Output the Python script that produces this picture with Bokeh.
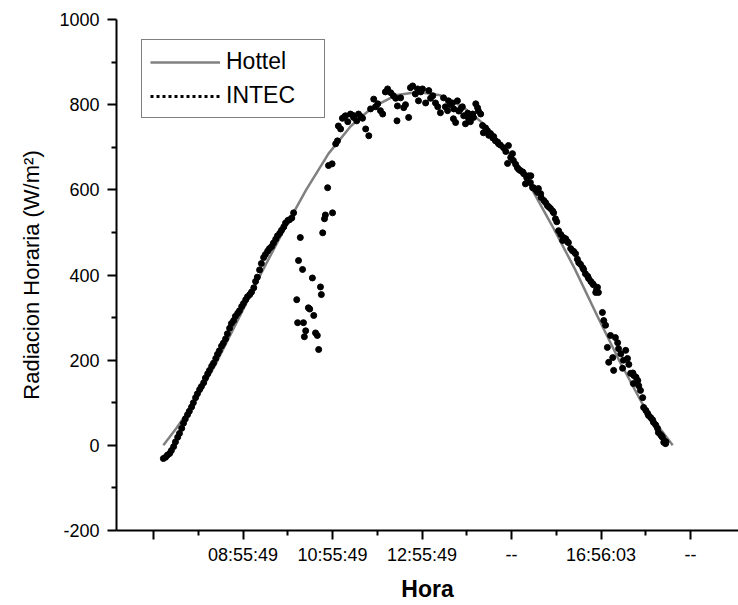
from bokeh.plotting import figure
from bokeh.models import Range1d, FixedTicker, Legend, LegendItem
from bokeh.embed import file_html
from bokeh.resources import INLINE

# ---------------- data (hours of day, W/m^2) ----------------
# Hottel model curve
hottel_hora = [7.15, 7.44, 7.84, 8.34, 8.84, 9.34, 9.84, 10.34, 10.84, 11.34, 11.84, 12.34,
               12.84, 13.34, 13.84, 14.34, 14.84, 15.34, 15.84, 16.34, 16.84, 17.34, 17.84,
               18.24, 18.53]
hottel_rad = [0, 40, 100, 195, 300, 405, 505, 600, 685, 750, 795, 822,
              830, 822, 795, 752, 690, 610, 515, 415, 305, 198, 100,
              40, 0]

# INTEC measurements - morning rise
intec_hora_manana = [7.15, 7.20, 7.24, 7.29, 7.33, 7.38, 7.42, 7.47, 7.51, 7.56, 7.60, 7.64, 7.69,
                     7.73, 7.78, 7.82, 7.87, 7.91, 7.96, 8.00, 8.05, 8.09, 8.14, 8.18, 8.23, 8.27,
                     8.32, 8.36, 8.40, 8.45, 8.49, 8.54, 8.58, 8.63, 8.67, 8.72, 8.76, 8.81, 8.85,
                     8.90, 8.94, 8.99, 9.03, 9.08, 9.12, 9.17, 9.21, 9.25, 9.30, 9.34, 9.39, 9.43,
                     9.48, 9.52, 9.57, 9.61, 9.66, 9.70, 9.75, 9.79, 9.84, 9.88, 9.93, 9.97, 10.02,
                     10.06]
intec_rad_manana = [-31, -28, -23, -19, -12, -3, 8, 19, 28, 40, 52, 62, 72,
                    80, 90, 100, 112, 121, 131, 138, 147, 158, 168, 176, 186, 193,
                    204, 214, 222, 233, 240, 250, 262, 275, 286, 293, 303, 310, 316,
                    326, 333, 342, 349, 354, 360, 370, 385, 395, 412, 427, 441, 448,
                    456, 462, 467, 475, 484, 492, 498, 505, 513, 522, 528, 530, 534,
                    546]

# INTEC - cloudy interval
intec_hora_nube = [10.13, 10.15, 10.17, 10.21, 10.26, 10.28, 10.30, 10.33, 10.39, 10.42, 10.48,
                   10.51, 10.55, 10.59, 10.62, 10.66, 10.68, 10.71, 10.75, 10.77, 10.82, 10.84,
                   10.93, 10.92, 11.00, 11.04]
intec_rad_nube = [342, 288, 434, 488, 413, 288, 255, 269, 323, 320, 393,
                  305, 264, 258, 225, 372, 354, 499, 532, 541, 605, 657,
                  546, 661, 708, 715]

# INTEC - midday
intec_hora_mediodia = [11.06, 11.11, 11.15, 11.20, 11.22, 11.27, 11.33, 11.38, 11.40, 11.47, 11.51,
                       11.56, 11.60, 11.67, 11.74, 11.78, 11.85, 11.89, 11.94, 12.00, 12.05, 12.11,
                       12.16, 12.23, 12.29, 12.34, 12.37, 12.38, 12.45, 12.52, 12.56, 12.63, 12.67,
                       12.72, 12.78, 12.83, 12.85, 12.90, 12.94, 13.01, 13.08, 13.12, 13.17, 13.23,
                       13.28, 13.34, 13.41, 13.45, 13.50, 13.52, 13.57, 13.61, 13.63, 13.64, 13.68,
                       13.72, 13.75, 13.79, 13.83, 13.86, 13.90, 13.95, 13.97, 14.01, 14.06, 14.08,
                       14.13, 14.17, 14.19, 14.24, 14.28, 14.30, 14.35, 14.39, 14.42, 14.46, 14.51,
                       14.53, 14.57, 14.62, 14.64, 14.68, 14.75, 14.80, 14.84, 14.86, 14.91, 14.95,
                       14.97, 15.02, 15.06, 15.09, 15.13, 15.18, 15.20, 15.24, 15.27, 15.31, 15.35,
                       15.36, 15.40, 15.42, 15.47, 15.51, 15.53, 15.58, 15.59]
intec_rad_mediodia = [750, 743, 768, 772, 774, 760, 778, 775, 770, 762, 778,
                      772, 768, 743, 727, 790, 813, 795, 802, 786, 778, 830,
                      837, 828, 821, 815, 762, 797, 816, 793, 800, 770, 840,
                      844, 825, 837, 809, 830, 837, 804, 833, 815, 821, 804,
                      795, 781, 816, 795, 786, 809, 800, 804, 767, 790, 758,
                      809, 785, 790, 795, 774, 755, 780, 767, 760, 778, 770,
                      802, 793, 785, 778, 751, 734, 745, 739, 728, 732, 722,
                      725, 715, 712, 708, 705, 699, 690, 662, 704, 676, 685,
                      669, 660, 652, 648, 645, 642, 638, 614, 628, 633, 617,
                      633, 605, 605, 600, 594, 603, 591, 582]

# INTEC - afternoon decline
intec_hora_tarde = [15.65, 15.69, 15.73, 15.76, 15.80, 15.85, 15.87, 15.91, 15.94, 15.98, 16.03,
                    16.07, 16.09, 16.14, 16.18, 16.20, 16.25, 16.29, 16.32, 16.36, 16.40, 16.43,
                    16.47, 16.52, 16.54, 16.58, 16.63, 16.65, 16.70, 16.74, 16.76, 16.81, 16.83,
                    16.85, 16.87, 16.96, 16.99, 17.03, 17.07, 17.10, 17.14, 17.19, 17.21, 17.25,
                    17.30, 17.32, 17.37, 17.41, 17.43, 17.48, 17.52, 17.55, 17.59, 17.64, 17.65,
                    17.66, 17.71, 17.75, 17.77, 17.81, 17.86, 17.88, 17.93, 17.97, 17.99, 18.04,
                    18.08, 18.10, 18.15, 18.19, 18.21, 18.26, 18.28, 18.30, 18.33, 18.35, 18.37,
                    18.38]
intec_rad_tarde = [575, 570, 563, 560, 556, 550, 546, 532, 525, 504, 495,
                   481, 488, 485, 478, 476, 462, 457, 455, 450, 437, 429,
                   425, 417, 413, 403, 397, 392, 385, 380, 377, 359, 366,
                   371, 359, 312, 293, 282, 230, 195, 258, 206, 176, 253,
                   241, 227, 215, 181, 200, 223, 204, 190, 169, 170, 145,
                   164, 160, 152, 140, 129, 112, 89, 82, 75, 70, 65,
                   60, 54, 48, 40, 30, 25, 22, 19, 7, 10, 4,
                   8]

x_ticks = [6.93, 8.93, 10.93, 12.93, 14.93, 16.93, 18.93]
x_tick_labels = ["", "08:55:49", "10:55:49", "12:55:49", "--", "16:56:03", "--"]
x_minor = [7.93, 9.93, 11.93, 13.93, 15.93, 17.93]
y_ticks = [-200, 0, 200, 400, 600, 800, 1000]
y_tick_labels = ["-200", "0", "200", "400", "600", "800", "1000"]
y_minor = [-100, 100, 300, 500, 700, 900]

intec_hora = intec_hora_manana + intec_hora_nube + intec_hora_mediodia + intec_hora_tarde
intec_rad = intec_rad_manana + intec_rad_nube + intec_rad_mediodia + intec_rad_tarde

FONT = "Liberation Sans"
NAN = float("nan")

p = figure(width=738, height=605, x_range=Range1d(6.103, 20.0), y_range=Range1d(-200, 1000),
           output_backend="svg", toolbar_location=None,
           min_border_left=116, min_border_right=0, min_border_top=19, min_border_bottom=75)
p.xgrid.visible = False
p.ygrid.visible = False
p.outline_line_color = None
p.background_fill_color = "white"
p.border_fill_color = "white"

hottel_r = p.line(hottel_hora, hottel_rad, line_color="#808080", line_width=2.5)
p.scatter(intec_hora, intec_rad, size=6, fill_color="black", line_color="black")
# legend key only (dotted line sample for the INTEC series)
intec_key = p.line([NAN, NAN], [NAN, NAN], line_color="black", line_width=3, line_dash="3 3")

for ax in (p.xaxis[0], p.yaxis[0]):
    ax.axis_line_width = 2
    ax.axis_line_color = "black"
    ax.major_tick_line_width = 2
    ax.minor_tick_line_width = 2
    ax.major_tick_line_color = "black"
    ax.minor_tick_line_color = "black"
    ax.major_tick_out = 9
    ax.major_tick_in = 0
    ax.minor_tick_out = 5
    ax.minor_tick_in = 0
    ax.major_label_text_font = FONT
    ax.major_label_text_font_size = "18px"
    ax.major_label_text_color = "black"
    ax.axis_label_text_font = FONT
    ax.axis_label_text_color = "black"

p.xaxis[0].ticker = FixedTicker(ticks=x_ticks, minor_ticks=x_minor)
p.xaxis[0].major_label_overrides = {t: l for t, l in zip(x_ticks, x_tick_labels)}
p.xaxis[0].axis_label = "Hora"
p.xaxis[0].axis_label_text_font_style = "bold"
p.xaxis[0].axis_label_text_font_size = "23px"
p.xaxis[0].axis_label_standoff = 8
p.xaxis[0].major_label_standoff = 5

p.yaxis[0].ticker = FixedTicker(ticks=y_ticks, minor_ticks=y_minor)
p.yaxis[0].major_label_overrides = {t: l for t, l in zip(y_ticks, y_tick_labels)}
p.yaxis[0].axis_label = "Radiacion Horaria (W/m²)"
p.yaxis[0].axis_label_text_font_style = "normal"
p.yaxis[0].axis_label_text_font_size = "22px"
p.yaxis[0].axis_label_standoff = 12
p.yaxis[0].major_label_standoff = 8

legend = Legend(items=[LegendItem(label="Hottel", renderers=[hottel_r]),
                       LegendItem(label="INTEC", renderers=[intec_key])],
                location=(25, 412))
legend.border_line_color = "black"
legend.border_line_width = 1.5
legend.background_fill_color = "white"
legend.background_fill_alpha = 1
legend.label_text_font = FONT
legend.label_text_font_size = "23px"
legend.label_text_color = "black"
legend.glyph_width = 70
legend.glyph_height = 24
legend.label_height = 24
legend.label_width = 90
legend.label_standoff = 6
legend.spacing = 7
legend.padding = 8
legend.margin = 0
p.add_layout(legend)

open("out.html", "w").write(file_html(p, INLINE))
